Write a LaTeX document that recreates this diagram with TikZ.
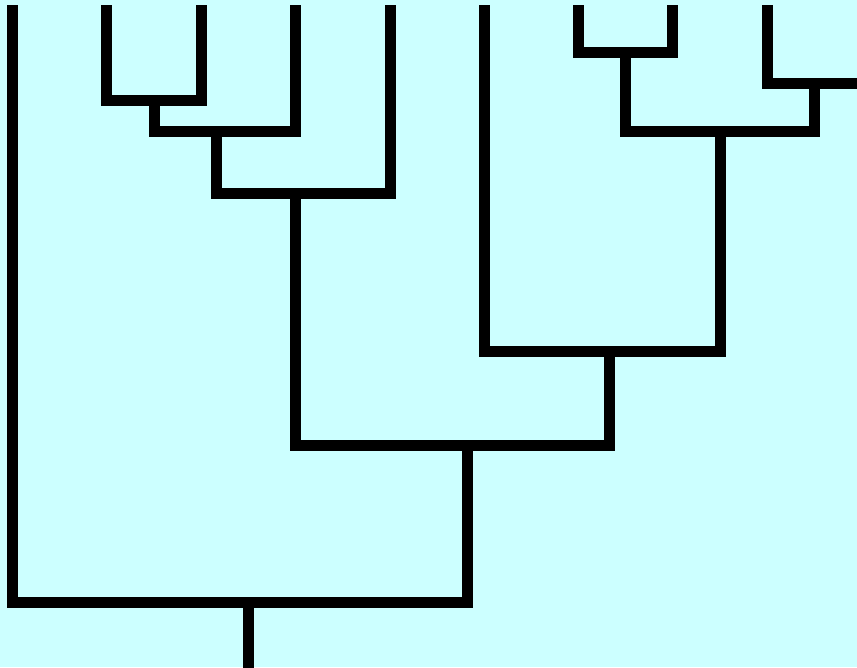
\documentclass[tikz,border=0pt]{standalone}
\begin{document}
\begin{tikzpicture}[x=1pt,y=-1pt,
  branch/.style={line width=11pt, line join=miter, line cap=butt, draw=black}]
\definecolor{bgcyan}{HTML}{CCFFFF}
\fill[bgcyan] (0,0) rectangle (857,667);
\useasboundingbox (0,0) rectangle (857,667);
\clip (0,0) rectangle (857,667);
% leaves
\coordinate (L1) at (12,5);
\coordinate (L2) at (106,5);
\coordinate (L3) at (201,5);
\coordinate (L4) at (295,5);
\coordinate (L5) at (390,5);
\coordinate (L6) at (484,5);
\coordinate (L7) at (578,5);
\coordinate (L8) at (672,5);
\coordinate (L9) at (767,5);
\coordinate (L10) at (872,5);
% joins
\coordinate (N1) at (154,100);
\coordinate (N2) at (216,131);
\coordinate (N3) at (295,193);
\coordinate (N4) at (625,52);
\coordinate (N5) at (814,83);
\coordinate (N6) at (720,131);
\coordinate (N7) at (609,351);
\coordinate (N8) at (467,445);
\coordinate (N9) at (248,602);
\coordinate (R) at (248,680);
% branches
\draw[branch] (L2) -- (L2 |- N1) -- (L3 |- N1) -- (L3);
\draw[branch] (N1) -- (N1 |- N2) -- (L4 |- N2) -- (L4);
\draw[branch] (N2) -- (N2 |- N3) -- (L5 |- N3) -- (L5);
\draw[branch] (L7) -- (L7 |- N4) -- (L8 |- N4) -- (L8);
\draw[branch] (L9) -- (L9 |- N5) -- (L10 |- N5) -- (L10);
\draw[branch] (N4) -- (N4 |- N6) -- (N5 |- N6) -- (N5);
\draw[branch] (L6) -- (L6 |- N7) -- (N6 |- N7) -- (N6);
\draw[branch] (N3) -- (N3 |- N8) -- (N7 |- N8) -- (N7);
\draw[branch] (L1) -- (L1 |- N9) -- (N8 |- N9) -- (N8);
\draw[branch] (N9) -- (R);
\end{tikzpicture}
\end{document}
